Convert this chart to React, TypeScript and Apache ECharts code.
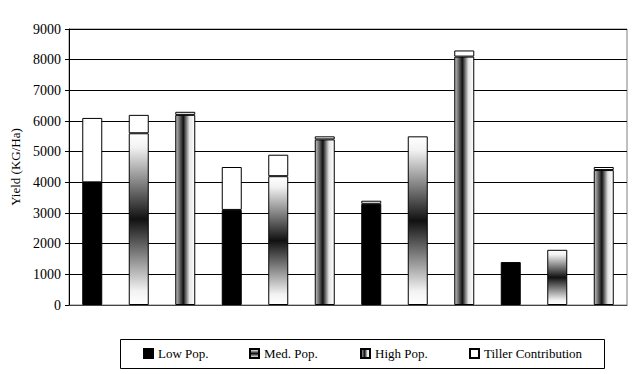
import React, { useEffect, useRef } from "react";
import * as echarts from "echarts";

const categories = ["T1", "T2", "T3", "T4", "T5", "T6", "T7", "T8", "T9", "T10", "T11", "T12"];
const lowPop = [4000, null, null, 3100, null, null, 3300, null, null, 1400, null, null];
const medPop = [null, 5600, null, null, 4200, null, null, 5500, null, null, 1800, null];
const highPop = [null, null, 6200, null, null, 5400, null, null, 8100, null, null, 4400];
const tiller = [2100, 600, 100, 1400, 700, 100, 100, null, 200, null, null, 100];
const seriesNames = ["Low Pop.", "Med. Pop.", "High Pop.", "Tiller Contribution"];
const yTicks = { min: 0, max: 9000, interval: 1000 };

const FONT = "Liberation Serif";

export default function App() {
  const ref = useRef<HTMLDivElement>(null);
  useEffect(() => {
    if (!ref.current) return;
    const chart = echarts.init(ref.current, null, { renderer: "svg" });
    const medGrad = new echarts.graphic.LinearGradient(0, 0, 0, 1, [
      { offset: 0, color: "#ffffff" },
      { offset: 0.08, color: "#f2f2f2" },
      { offset: 0.5, color: "#111111" },
      { offset: 0.92, color: "#f2f2f2" },
      { offset: 1, color: "#ffffff" },
    ]);
    const highGrad = new echarts.graphic.LinearGradient(0, 0, 1, 0, [
      { offset: 0, color: "#c4c4c4" },
      { offset: 0.4, color: "#111111" },
      { offset: 0.72, color: "#e4e4e4" },
      { offset: 1, color: "#ffffff" },
    ]);
    const fills = ["#000000", medGrad, highGrad, "#ffffff"];
    const datas = [lowPop, medPop, highPop, tiller];
    const legendLefts = [143, 249, 360, 469];
    chart.setOption({
      animation: false,
      backgroundColor: "#ffffff",
      grid: {
        left: 69,
        right: 5,
        top: 29,
        bottom: 69,
        show: true,
        borderColor: "#808080",
        borderWidth: 1,
      },
      xAxis: {
        type: "category",
        data: categories,
        axisLabel: { show: false },
        axisTick: { show: false },
        axisLine: { lineStyle: { color: "#444444", width: 1 } },
      },
      yAxis: {
        type: "value",
        min: yTicks.min,
        max: yTicks.max,
        interval: yTicks.interval,
        name: "Yield (KG/Ha)",
        nameLocation: "middle",
        nameGap: 47,
        nameTextStyle: { fontFamily: FONT, fontSize: 13, color: "#000" },
        axisLine: { show: true, lineStyle: { color: "#000", width: 1 } },
        axisTick: { show: true, length: 4, lineStyle: { color: "#000" } },
        axisLabel: {
          fontFamily: FONT,
          fontSize: 14,
          color: "#000",
          margin: 8,
          formatter: (v: number) => String(v),
        },
        splitLine: { lineStyle: { color: "#000", width: 1 } },
      },
      legend: seriesNames.map((n, i) => ({
        data: [n],
        icon: "rect",
        left: legendLefts[i],
        top: 347,
        padding: 0,
        itemWidth: 9,
        itemHeight: 9,
        itemGap: 3,
        selectedMode: false,
        textStyle: { fontFamily: FONT, fontSize: 13, color: "#000" },
      })),
      graphic: [
        {
          type: "rect",
          shape: { x: 120.5, y: 339.5, width: 484, height: 29 },
          style: { fill: "none", stroke: "#000", lineWidth: 1 },
          silent: true,
        },
      ],
      series: seriesNames.map((n, i) => ({
        name: n,
        type: "bar",
        stack: "total",
        barWidth: 20,
        data: datas[i].map((v) => (v === null ? "-" : v)),
        itemStyle: { color: fills[i], borderColor: "#000", borderWidth: 1 },
      })),
    });
    return () => chart.dispose();
  }, []);
  return (
    <div
      ref={ref}
      style={{ position: "fixed", left: 0, top: 0, width: 632, height: 374, background: "#fff" }}
    />
  );
}
